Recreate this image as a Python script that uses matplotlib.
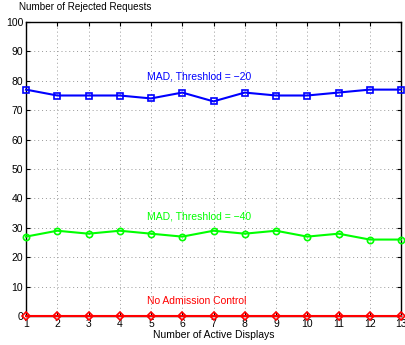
import matplotlib
matplotlib.use("Agg")
import matplotlib.pyplot as plt
import numpy as np

plt.rcParams['font.family'] = ['Liberation Sans', 'DejaVu Sans']

# number of active displays on the x axis
displays = np.arange(1, 14)

# rejected requests per policy
mad_20 = [77, 75, 75, 75, 74, 76, 73, 76, 75, 75, 76, 77, 77]
mad_40 = [27, 29, 28, 29, 28, 27, 29, 28, 29, 27, 28, 26, 26]
no_admission = [0] * 13

fig = plt.figure(figsize=(4.06, 3.45), dpi=100)
ax = fig.add_axes([26 / 406, 29 / 345, 375 / 406, 294 / 345])

ax.plot(displays, mad_20, color='#0000ff', lw=1.5, marker='s', ms=4.5,
        mfc='none', mew=1.2, clip_on=False, zorder=3)
ax.plot(displays, mad_40, color='#00ff00', lw=1.5, marker='o', ms=4.5,
        mfc='none', mew=1.2, clip_on=False, zorder=3)
ax.plot(displays, no_admission, color='#ff0000', lw=1.5, marker='D', ms=4,
        mfc='none', mew=1.2, clip_on=False, zorder=3)

ax.text(4.87, 81.6, 'MAD, Threshlod = \u221220', color='#0000ff', fontsize=7.5,
        ha='left', va='center')
ax.text(4.87, 33.7, 'MAD, Threshlod = \u221240', color='#00ff00', fontsize=7.5,
        ha='left', va='center')
ax.text(4.87, 5.1, 'No Admission Control', color='#ff0000', fontsize=7.5,
        ha='left', va='center')

ax.set_xlim(1, 13)
ax.set_ylim(0, 100)
ax.set_xticks(displays)
ax.set_yticks(np.arange(0, 101, 10))
ax.tick_params(direction='in', top=True, right=True, labelsize=7.5,
               length=3, pad=2)
ax.grid(True, color='#999999', linestyle=(0, (1, 3)), linewidth=0.7)
for s in ax.spines.values():
    s.set_linewidth(1.0)

ax.set_xlabel('Number of Active Displays', fontsize=7.5, labelpad=1)
fig.text(19 / 406, 1 - 7 / 345, 'Number of Rejected Requests', fontsize=7.1,
         ha='left', va='center')

fig.savefig('out.png', dpi=100)
